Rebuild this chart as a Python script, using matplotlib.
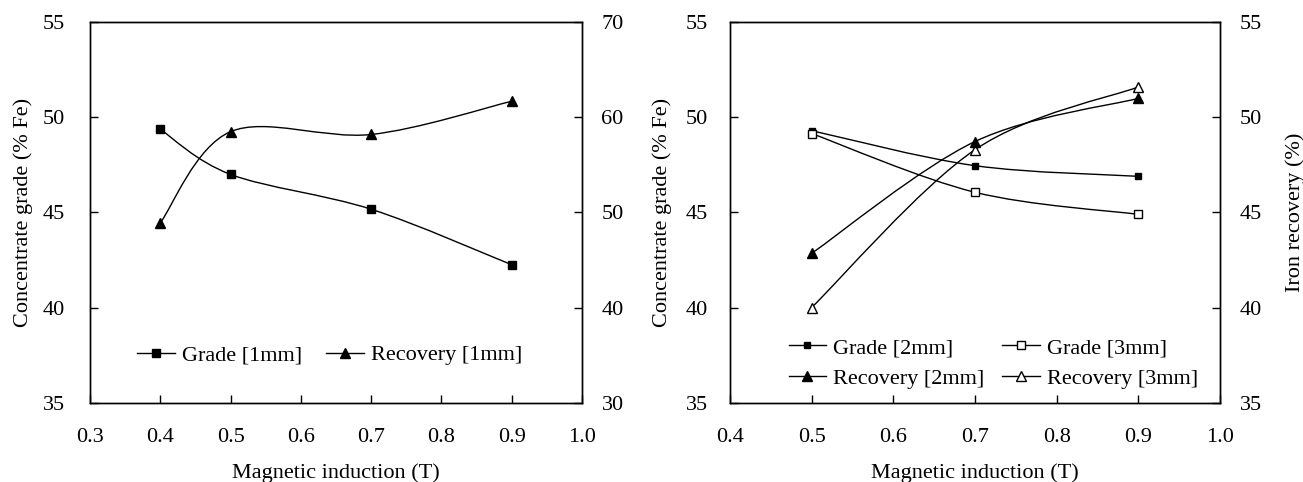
import numpy as np
import matplotlib
matplotlib.use("Agg")
import matplotlib.pyplot as plt
from matplotlib.path import Path
from matplotlib.lines import Line2D

plt.rcParams['font.family'] = ['Liberation Serif', 'DejaVu Serif']
plt.rcParams['font.size'] = 16

# ---- data ----
x_left = [0.4, 0.5, 0.7, 0.9]
grade_1mm = [49.37, 47.0, 45.17, 42.25]
recovery_1mm = [48.9, 58.5, 58.2, 61.7]

x_right = [0.5, 0.7, 0.9]
grade_2mm = [49.3, 47.46, 46.9]
grade_3mm = [49.15, 46.06, 44.9]
recovery_2mm = [42.85, 48.73, 51.0]
recovery_3mm = [40.0, 48.3, 51.6]

left_xticks = [0.3, 0.4, 0.5, 0.6, 0.7, 0.8, 0.9, 1.0]
right_xticks = [0.4, 0.5, 0.6, 0.7, 0.8, 0.9, 1.0]

W, H = 1303, 482
fig = plt.figure(figsize=(W / 100, H / 100), dpi=100)


def smooth_line(ax, xs, ys, **kw):
    """Excel-like smoothed line (Catmull-Rom Bezier in display space)."""
    pts = ax.transData.transform(np.column_stack([xs, ys]))
    n = len(pts)
    verts = [pts[0]]
    codes = [Path.MOVETO]
    for i in range(n - 1):
        p0 = pts[i - 1] if i > 0 else pts[i]
        p1 = pts[i]
        p2 = pts[i + 1]
        p3 = pts[i + 2] if i + 2 < n else pts[i + 1]
        c1 = p1 + (p2 - p0) / 6.0
        c2 = p2 - (p3 - p1) / 6.0
        verts += [c1, c2, p2]
        codes += [Path.CURVE4] * 3
    path = Path(verts, codes)
    poly = path.to_polygons(closed_only=False)[0]
    data = ax.transData.inverted().transform(poly)
    ax.plot(data[:, 0], data[:, 1], color='black', lw=1.0, zorder=2, **kw)


def style(ax):
    ax.tick_params(direction='in', length=6, width=1.0, pad=14, labelsize=16)
    for s in ax.spines.values():
        s.set_linewidth(1.0)


fs = 16
leg_kw = dict(frameon=False, fontsize=fs, handlelength=1.7, handletextpad=0.3)

# ---------------- left panel ----------------
ax1 = fig.add_axes([90 / W, 1 - 402.6 / H, 492 / W, 380.3 / H])
ax1.set_xlim(0.3, 1.0)
ax1.set_ylim(35, 55)
ax1.set_xticks(left_xticks)
ax1.set_xticklabels([f"{v:.1f}" for v in left_xticks])
ax1.set_yticks([35, 40, 45, 50, 55])
style(ax1)
ax1.tick_params(axis='x', pad=18)
ax1.tick_params(axis='y', pad=18)
ax1.set_xlabel("Magnetic induction (T)", fontsize=fs, labelpad=12)
ax1.set_ylabel("Concentrate grade (% Fe)", fontsize=fs, labelpad=7)

ax1b = ax1.twinx()
ax1b.set_ylim(30, 70)
ax1b.set_yticks([30, 40, 50, 60, 70])
style(ax1b)

smooth_line(ax1, x_left, grade_1mm)
ax1.plot(x_left, grade_1mm, ls='none', marker='s', ms=5.4, color='black', zorder=3)
smooth_line(ax1b, x_left, recovery_1mm)
ax1b.plot(x_left, recovery_1mm, ls='none', marker='^', ms=7.0, color='black', zorder=3)

h1 = [Line2D([], [], color='black', lw=1.0, marker='s', ms=5.4),
      Line2D([], [], color='black', lw=1.0, marker='^', ms=7.0)]
ax1b.legend(h1, ["Grade [1mm]", "Recovery [1mm]"], ncol=2,
            loc='center', bbox_to_anchor=(0.487, 0.125),
            columnspacing=1.1, **leg_kw)

# ---------------- right panel ----------------
ax2 = fig.add_axes([730 / W, 1 - 402.6 / H, 490 / W, 380.3 / H])
ax2.set_xlim(0.4, 1.0)
ax2.set_ylim(35, 55)
ax2.set_xticks(right_xticks)
ax2.set_xticklabels([f"{v:.1f}" for v in right_xticks])
ax2.set_yticks([35, 40, 45, 50, 55])
style(ax2)
ax2.tick_params(axis='x', pad=18)
ax2.tick_params(axis='y', pad=16)
ax2.set_xlabel("Magnetic induction (T)", fontsize=fs, labelpad=12)
ax2.set_ylabel("Concentrate grade (% Fe)", fontsize=fs, labelpad=10)

ax2b = ax2.twinx()
ax2b.set_ylim(35, 55)
ax2b.set_yticks([35, 40, 45, 50, 55])
style(ax2b)
ax2b.set_ylabel("Iron recovery (%)", fontsize=fs, labelpad=17)

smooth_line(ax2, x_right, grade_2mm)
smooth_line(ax2, x_right, grade_3mm)
smooth_line(ax2b, x_right, recovery_2mm)
smooth_line(ax2b, x_right, recovery_3mm)
ax2.plot(x_right, grade_2mm, ls='none', marker='s', ms=5.0, color='black', zorder=3)
ax2.plot(x_right, grade_3mm, ls='none', marker='s', ms=6.4, mfc='white', mec='black', mew=1.0, zorder=4)
ax2b.plot(x_right, recovery_3mm, ls='none', marker='^', ms=7.2, mfc='white', mec='black', mew=1.0, zorder=3)
ax2b.plot(x_right, recovery_2mm, ls='none', marker='^', ms=7.0, color='black', zorder=4)

h2 = [Line2D([], [], color='black', lw=1.0, marker='s', ms=5.0),
      Line2D([], [], color='black', lw=1.0, marker='^', ms=7.0),
      Line2D([], [], color='black', lw=1.0, marker='s', ms=6.4, mfc='white', mec='black'),
      Line2D([], [], color='black', lw=1.0, marker='^', ms=7.2, mfc='white', mec='black')]
ax2b.legend(h2, ["Grade [2mm]", "Recovery [2mm]", "Grade [3mm]", "Recovery [3mm]"],
            ncol=2, loc='center', bbox_to_anchor=(0.537, 0.104),
            columnspacing=0.8, labelspacing=0.45, **leg_kw)

fig.savefig("out.png", dpi=100)
